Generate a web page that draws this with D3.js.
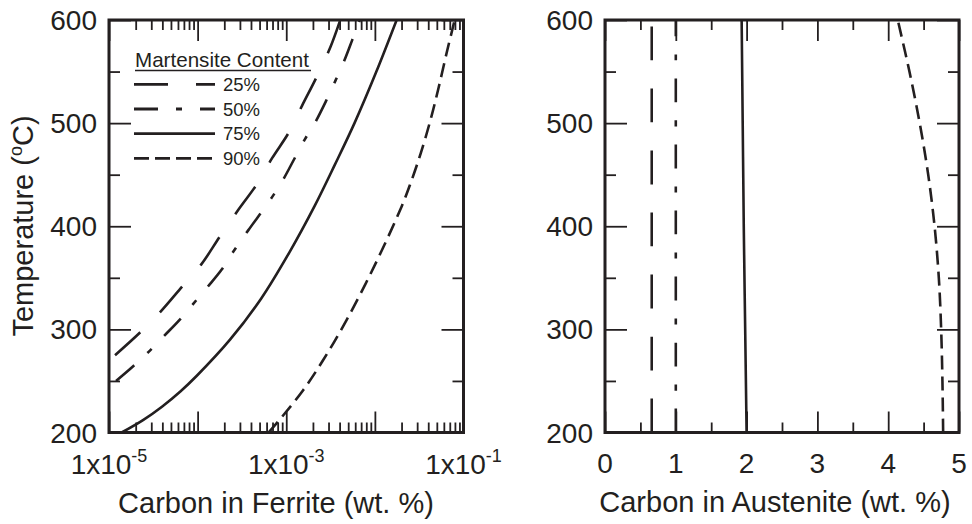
<!DOCTYPE html>
<html><head><meta charset="utf-8">
<script src="https://cdn.jsdelivr.net/npm/d3@7"></script>
<style>
body{margin:0;background:#fff;}
text{font-family:"Liberation Sans",Arial,Helvetica,sans-serif;fill:#231f20;}
</style></head><body>
<svg id="c" width="972" height="524"></svg>
<script>
// ---------- data ----------
const seriesNames = ["25%", "50%", "75%", "90%"];
const legendTitle = "Martensite Content";

// Left panel: temperature (°C) vs carbon in ferrite (wt. %)
const ferriteT25 = [275, 297, 317, 342, 363, 390, 416, 441, 466, 491, 517, 546, 574, 600];
const ferriteC25 = [1.17e-5, 2.24e-5, 3.80e-5, 6.76e-5, 1.10e-4, 1.78e-4, 2.88e-4, 4.68e-4, 6.92e-4, 1.07e-3, 1.51e-3, 2.24e-3, 3.16e-3, 4.07e-3];
const ferriteT50 = [250, 264, 278, 293, 309, 325, 341, 358, 375, 396, 428, 446, 464, 485, 501, 522, 541, 559, 580, 600];
const ferriteC50 = [1.20e-5, 1.86e-5, 2.78e-5, 4.11e-5, 6.22e-5, 8.97e-5, 1.29e-4, 1.87e-4, 2.51e-4, 3.72e-4, 6.89e-4, 9.33e-4, 1.21e-3, 1.64e-3, 2.13e-3, 2.83e-3, 3.58e-3, 4.44e-3, 5.52e-3, 6.76e-3];
const ferriteT75 = [200, 212, 225, 240, 255, 290, 330, 375, 420, 460, 500, 550, 600];
const ferriteC75 = [1.39e-5, 2.42e-5, 3.96e-5, 6.43e-5, 9.79e-5, 2.32e-4, 5.22e-4, 1.09e-3, 2.10e-3, 3.55e-3, 5.89e-3, 1.04e-2, 1.76e-2];
const ferriteT90 = [200, 216, 241, 270, 309, 364, 419, 441, 470, 503, 535, 570, 590, 600];
const ferriteC90 = [6.31e-4, 9.12e-4, 1.55e-3, 2.60e-3, 4.79e-3, 1.02e-2, 2.00e-2, 2.51e-2, 3.27e-2, 4.24e-2, 5.26e-2, 6.53e-2, 7.45e-2, 7.94e-2];

// Right panel: temperature (°C) vs carbon in austenite (wt. %)
const austT25 = [200, 400, 600];
const austC25 = [0.66, 0.66, 0.66];
const austT50 = [200, 400, 600];
const austC50 = [1.0, 1.0, 1.0];
const austT75 = [200, 300, 400, 500, 600];
const austC75 = [2.0, 1.98, 1.96, 1.945, 1.93];
const austT90 = [200, 250, 300, 350, 400, 450, 500, 550, 600];
const austC90 = [4.776, 4.766, 4.748, 4.715, 4.655, 4.565, 4.445, 4.30, 4.135];

// ticks
const tempTicks = [200, 300, 400, 500, 600];
const tempMinorTicks = [250, 350, 450, 550];
const ferriteDecades = [1e-5, 1e-4, 1e-3, 1e-2, 1e-1];
const ferriteLabelTicks = [1e-5, 1e-3, 1e-1];
const ferriteLabelExp = ["-5", "-3", "-1"];
const austTicks = [0, 1, 2, 3, 4, 5];
const austMinorTicks = [0.5, 1.5, 2.5, 3.5, 4.5];

const xTitleLeft = "Carbon in Ferrite (wt. %)";
const xTitleRight = "Carbon in Austenite (wt. %)";

// ---------- styling ----------
const ink = "#231f20";
const dashStyles = ["34,28", "24,18,6,18", null, "14,7"];

const svg = d3.select("#c");

const yL = d3.scaleLinear().domain([200, 600]).range([432.5, 20]);
const xL = d3.scaleLog().domain([1e-5, 1e-1]).range([109, 463.5]);
const xR = d3.scaleLinear().domain([0, 5]).range([605, 959]);

const ferrite = [
  ferriteT25.map((t, i) => [ferriteC25[i], t]),
  ferriteT50.map((t, i) => [ferriteC50[i], t]),
  ferriteT75.map((t, i) => [ferriteC75[i], t]),
  ferriteT90.map((t, i) => [ferriteC90[i], t])
];
const austenite = [
  austT25.map((t, i) => [austC25[i], t]),
  austT50.map((t, i) => [austC50[i], t]),
  austT75.map((t, i) => [austC75[i], t]),
  austT90.map((t, i) => [austC90[i], t])
];

function panel(x, id, curves, majorX, minorX) {
  const [x0, x1] = x.range();
  const [y0, y1] = yL.range();
  const g = svg.append("g");
  g.append("clipPath").attr("id", id).append("rect")
    .attr("x", x0).attr("y", y1).attr("width", x1 - x0).attr("height", y0 - y1);

  const axStyle = sel => {
    sel.select(".domain").remove();
    sel.selectAll("text").remove();
    sel.selectAll("line").attr("stroke", ink).attr("stroke-width", 1.8);
  };
  g.append("g").attr("transform", `translate(0,${y0})`)
    .call(d3.axisBottom(x).tickValues(majorX).tickSize(-21)).call(axStyle);
  g.append("g").attr("transform", `translate(0,${y0})`)
    .call(d3.axisBottom(x).tickValues(minorX).tickSize(-10)).call(axStyle);
  g.append("g").attr("transform", `translate(0,${y1})`)
    .call(d3.axisTop(x).tickValues(majorX).tickSize(-21)).call(axStyle);
  g.append("g").attr("transform", `translate(0,${y1})`)
    .call(d3.axisTop(x).tickValues(minorX).tickSize(-10)).call(axStyle);
  g.append("g").attr("transform", `translate(${x0},0)`)
    .call(d3.axisLeft(yL).tickValues(tempTicks).tickSize(-22)).call(axStyle);
  g.append("g").attr("transform", `translate(${x0},0)`)
    .call(d3.axisLeft(yL).tickValues(tempMinorTicks).tickSize(-11)).call(axStyle);
  g.append("g").attr("transform", `translate(${x1},0)`)
    .call(d3.axisRight(yL).tickValues(tempTicks).tickSize(-22)).call(axStyle);
  g.append("g").attr("transform", `translate(${x1},0)`)
    .call(d3.axisRight(yL).tickValues(tempMinorTicks).tickSize(-11)).call(axStyle);

  const line = d3.line().x(d => x(d[0])).y(d => yL(d[1])).curve(d3.curveCatmullRom.alpha(0.5));
  g.append("g").attr("clip-path", `url(#${id})`).selectAll("path").data(curves).join("path")
    .attr("d", line).attr("fill", "none").attr("stroke", ink).attr("stroke-width", 2.6)
    .attr("stroke-dasharray", (d, i) => dashStyles[i]);

  g.append("rect").attr("x", x0).attr("y", y1).attr("width", x1 - x0).attr("height", y0 - y1)
    .attr("fill", "none").attr("stroke", ink).attr("stroke-width", 3);

  g.append("g").selectAll("text").data(tempTicks).join("text")
    .attr("x", x0 - 12).attr("y", d => yL(d)).attr("dy", "0.36em")
    .attr("text-anchor", "end").attr("font-size", 28).text(d => d);
  return g;
}

const minorLog = xL.ticks().filter(v => !ferriteDecades.some(d => Math.abs(v / d - 1) < 1e-6));
panel(xL, "clipL", ferrite, ferriteDecades, minorLog);
panel(xR, "clipR", austenite, austTicks, austMinorTicks);

const lab = svg.append("g").selectAll("text").data(ferriteLabelTicks).join("text")
  .attr("x", d => xL(d)).attr("y", 474).attr("text-anchor", "middle").attr("font-size", 28);
lab.append("tspan").text("1x10");
lab.append("tspan").attr("dy", -12).attr("font-size", 18).text((d, i) => ferriteLabelExp[i]);

svg.append("g").selectAll("text").data(austTicks).join("text")
  .attr("x", d => xR(d)).attr("y", 473).attr("text-anchor", "middle").attr("font-size", 28).text(d => d);

svg.append("text").attr("x", 276).attr("y", 513).attr("text-anchor", "middle")
  .attr("font-size", 29).text(xTitleLeft);
svg.append("text").attr("x", 775).attr("y", 512).attr("text-anchor", "middle")
  .attr("font-size", 29).text(xTitleRight);
const yt = svg.append("text").attr("transform", "translate(33,226) rotate(-90)")
  .attr("text-anchor", "middle").attr("font-size", 29);
yt.append("tspan").text("Temperature (");
yt.append("tspan").attr("dy", -11).attr("font-size", 18).text("o");
yt.append("tspan").attr("dy", 11).text("C)");

const lg = svg.append("g");
lg.append("text").attr("x", 135).attr("y", 67).attr("font-size", 20.6).text(legendTitle);
lg.append("line").attr("x1", 135).attr("x2", 311).attr("y1", 70.5).attr("y2", 70.5)
  .attr("stroke", ink).attr("stroke-width", 1.5);
const items = lg.selectAll("g.item").data(seriesNames).join("g")
  .attr("transform", (d, i) => `translate(0,${84.3 + i * 24.7})`);
items.append("line").attr("x1", 134).attr("x2", 215).attr("stroke", ink).attr("stroke-width", 2.8)
  .attr("stroke-dasharray", (d, i) => i === 3 ? "15,6" : dashStyles[i]);
items.append("text").attr("x", 223).attr("y", 6.5).attr("font-size", 18.5).text(d => d);
</script>
</body></html>
